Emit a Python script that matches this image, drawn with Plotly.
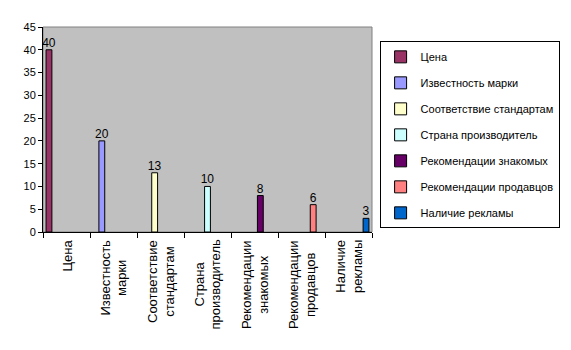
import plotly.graph_objects as go

categories = ["Цена", "Известность марки", "Соответствие стандартам", "Страна производитель",
              "Рекомендации знакомых", "Рекомендации продавцов", "Наличие рекламы"]
axis_labels = ["Цена", "Известность<br>марки", "Соответствие<br>стандартам", "Страна<br>производитель",
               "Рекомендации<br>знакомых", "Рекомендации<br>продавцов", "Наличие<br>рекламы"]
values = [40, 20, 13, 10, 8, 6, 3]
colors = ["#993366", "#9999FF", "#FFFFCC", "#CCFFFF", "#660066", "#FF8080", "#0066CC"]

fig = go.Figure()
for i, (name, v, c) in enumerate(zip(categories, values, colors)):
    ys = [v if j == i else None for j in range(len(categories))]
    fig.add_trace(go.Bar(
        x=categories, y=ys, name=name, legendgroup=name,
        marker=dict(color=c, line=dict(color="black", width=1)),
        text=[str(v) if j == i else "" for j in range(len(categories))],
        textposition="outside", cliponaxis=False, constraintext="none",
        textfont=dict(family="Arial, Liberation Sans", size=12, color="black"),
    ))

for cat, lab in zip(categories, axis_labels):
    fig.add_annotation(x=cat, y=0, xref="x", yref="y", text=lab, textangle=-90,
                       showarrow=False, xanchor="center", yanchor="top", yshift=-6,
                       align="center",
                       font=dict(family="Arial, Liberation Sans", size=13, color="black"))

fig.add_shape(type="rect", xref="paper", yref="paper", x0=0, x1=1, y0=0, y1=1,
              line=dict(color="#808080", width=1), fillcolor="rgba(0,0,0,0)", layer="below")

fig.update_layout(
    width=571, height=350,
    margin=dict(l=43, r=198, t=27, b=118),
    paper_bgcolor="white", plot_bgcolor="#C0C0C0",
    barmode="group", bargap=0.13, bargroupgap=0,
    font=dict(family="Arial, Liberation Sans", size=12, color="black"),
    xaxis=dict(showticklabels=False, showline=True, linecolor="black", linewidth=1,
               ticks="outside", tickson="boundaries", ticklen=5, tickcolor="black",
               showgrid=False, zeroline=False),
    yaxis=dict(range=[0, 45], dtick=5, showline=True, linecolor="black", linewidth=1,
               ticks="outside", ticklen=4, tickcolor="black", showgrid=False, zeroline=False,
               tickfont=dict(size=11)),
    legend=dict(x=1.02, y=0.93, xanchor="left", yanchor="top",
                bgcolor="white", bordercolor="black", borderwidth=1,
                font=dict(family="Arial, Liberation Sans", size=11, color="black"),
                tracegroupgap=7, traceorder="grouped", itemwidth=30),
    showlegend=True,
)

fig.write_html("out.html")
